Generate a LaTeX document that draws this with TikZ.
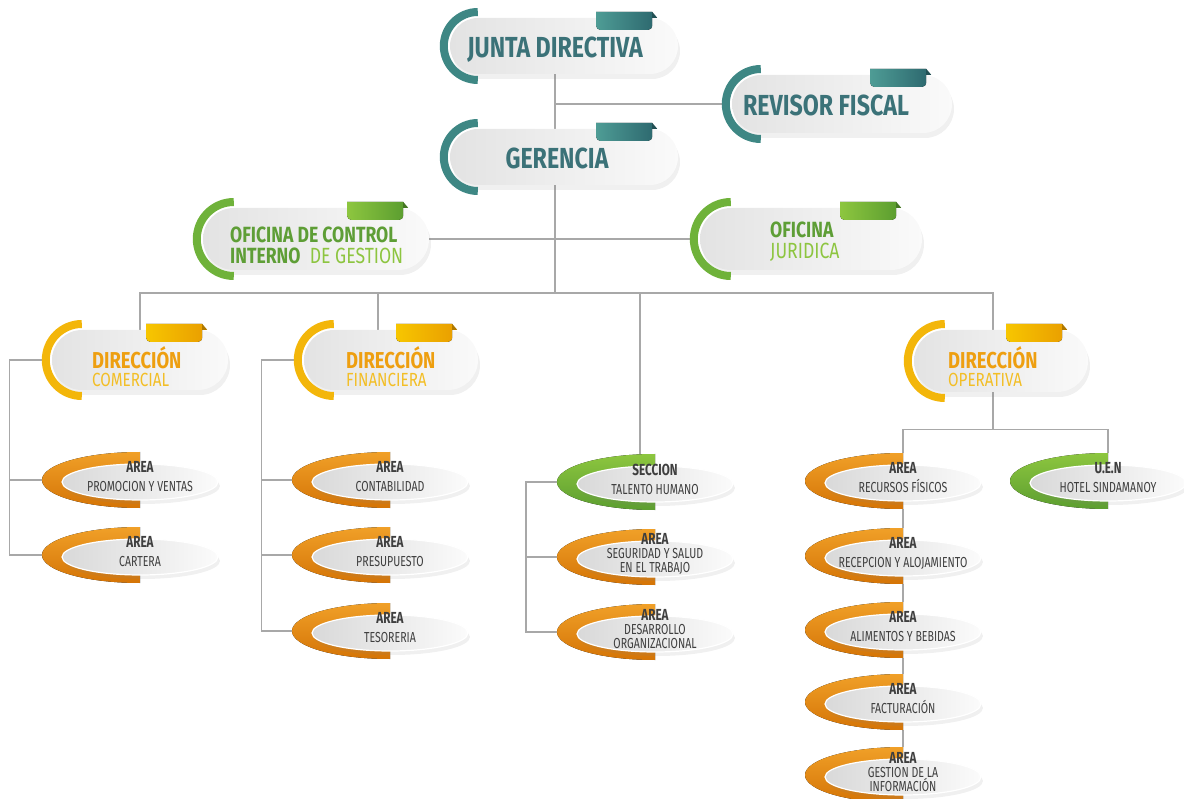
\documentclass[tikz,border=0pt]{standalone}
\usepackage{fontspec}
\setmainfont{Fira Sans}[FakeStretch=0.8]
\newfontfamily\narrowf{Fira Sans}[FakeStretch=0.73]
\usetikzlibrary{shapes.geometric,shadows}
\pgfdeclarelayer{background}
\pgfsetlayers{background,main}

\definecolor{tl}{HTML}{3E8784}
\definecolor{tlL}{HTML}{4E9C95}
\definecolor{tlD}{HTML}{2E6A70}
\definecolor{tltxt}{HTML}{3B7278}
\definecolor{gr}{HTML}{6FB23A}
\definecolor{grL}{HTML}{8DC63F}
\definecolor{grD}{HTML}{5C9E30}
\definecolor{grtxt}{HTML}{5E9E36}
\definecolor{grlt}{HTML}{8DC540}
\definecolor{yl}{HTML}{F3B60A}
\definecolor{ylL}{HTML}{F7C600}
\definecolor{ylD}{HTML}{EAA000}
\definecolor{yltxt}{HTML}{EE9F10}
\definecolor{yllt}{HTML}{F3BE25}
\definecolor{orgL}{HTML}{F0A028}
\definecolor{orgD}{HTML}{D47406}
\definecolor{ln}{HTML}{A8A8A8}
\definecolor{txtgray}{HTML}{3F3F3F}

\newcommand\hd[1]{{\fontsize{16}{14}\selectfont\bfseries #1}}

% pill: name, centre, width, height, colour
\newcommand\pillbox[5]{%
  \pgfmathsetmacro\ph{#4/2}%
  \node[pill, minimum width=#3pt, minimum height=#4pt, rounded corners=\ph pt] (#1) at (#2) {};
  \draw[#5, line width=8pt] ([xshift=\ph pt]#1.west) ++(0pt,\ph pt+6pt)
    arc[start angle=90, end angle=270, radius=\ph pt+6pt];
  \fill[left color=#5L, right color=#5D] ([xshift=-26pt, yshift=6pt]#1.north east) coordinate (#1-k)
    [rounded corners=4pt] -- ++(0pt,-18pt) -- ++(-56pt,0pt) [sharp corners] -- ++(0pt,18pt) -- cycle;
  \fill[#5D!75!black] (#1-k) -- ++(5pt,-6pt) -- ++(-5pt,0pt) -- cycle;
  \coordinate (#1-a) at ([xshift=-10pt]#1.west);
}
% area: name, centre, colour, text
\newcommand\areabox[4]{%
  \fill[top color=#3L, bottom color=#3D] (#2) ++(0pt,28pt) coordinate (#1-t)
    arc[start angle=90, end angle=270, x radius=98pt, y radius=28pt] coordinate (#1-b) -- cycle;
  \node[area] (#1) at (#2) {};
  \node[areatxt] (#1-x) at (#2) {#4};
  \path (#2) ++(-98pt,0pt) coordinate (#1-l);
}

\begin{document}
\begin{tikzpicture}[x=1pt, y=-1pt,
  pill/.style={rectangle, left color=gray!22, right color=gray!4,
    drop shadow={shadow xshift=2pt, shadow yshift=-5pt, opacity=.12}},
  area/.style={ellipse, minimum width=156pt, minimum height=36pt, inner sep=0pt, yshift=-2pt,
    left color=gray!30, right color=gray!3, draw=white, line width=1.2pt,
    drop shadow={shadow xshift=2pt, shadow yshift=-4pt, opacity=.12}},
  areatxt/.style={font=\narrowf\fontsize{14.5}{14}\selectfont, text=txtgray, align=center,
    inner sep=0pt, yshift=3pt},
  ttl/.style={font=\fontsize{29}{30}\selectfont\bfseries, text=tltxt, inner sep=0pt},
  dirtxt/.style={font=\fontsize{19}{18}\selectfont, align=left, anchor=west, inner sep=0pt},
  ofitxt/.style={font=\fontsize{22}{21}\selectfont, align=left, anchor=west, inner sep=0pt},
  link/.style={draw=ln, line width=1.3pt}]
\useasboundingbox (0,0) rectangle (1184,799);

\pillbox{jd}{564,46}{228}{56}{tl}
\pillbox{rf}{842,104}{220}{58}{tl}
\pillbox{ger}{564,157}{228}{56}{tl}
\pillbox{oci}{316,239}{226}{62}{gr}
\pillbox{ofj}{811,239}{222}{62}{gr}
\pillbox{dcom}{140,360}{176}{60}{yl}
\pillbox{dfin}{391,360}{174}{60}{yl}
\pillbox{dope}{1001,361}{174}{62}{yl}

\node[ttl] (jd-x) at (555,50) {JUNTA DIRECTIVA};
\node[ttl] (rf-x) at (826,105) {REVISOR FISCAL};
\node[ttl] (ger-x) at (557,158) {GERENCIA};
\node[ofitxt] (oci-x) at (230,245) {{\bfseries\color{grtxt}OFICINA DE CONTROL}\\
  {\bfseries\color{grtxt}INTERNO}\ \ {\color{grlt}DE GESTION}};
\node[ofitxt] (ofj-x) at (770,242) {{\bfseries\color{grtxt}OFICINA}\\ {\color{grlt}JURIDICA}};
\node[dirtxt] (dcom-x) at (92,367) {{\fontsize{23}{18}\selectfont\bfseries\color{yltxt}DIRECCIÓN}\\ {\color{yllt}COMERCIAL}};
\node[dirtxt] (dfin-x) at (346,367) {{\fontsize{23}{18}\selectfont\bfseries\color{yltxt}DIRECCIÓN}\\ {\color{yllt}FINANCIERA}};
\node[dirtxt] (dope-x) at (948,367) {{\fontsize{23}{18}\selectfont\bfseries\color{yltxt}DIRECCIÓN}\\ {\color{yllt}OPERATIVA}};

\areabox{prom}{140,480}{org}{\hd{AREA}\\[5pt] PROMOCION Y VENTAS}
\areabox{cart}{140,555}{org}{\hd{AREA}\\[5pt] CARTERA}
\areabox{cont}{390,480}{org}{\hd{AREA}\\[5pt] CONTABILIDAD}
\areabox{pres}{390,555}{org}{\hd{AREA}\\[5pt] PRESUPUESTO}
\areabox{teso}{390,631}{org}{\hd{AREA}\\[5pt] TESORERIA}
\areabox{tal}{655,482}{gr}{\hd{SECCION}\\[5pt] TALENTO HUMANO}
\areabox{segu}{655,557}{org}{\hd{AREA}\\ SEGURIDAD Y SALUD\\ EN EL TRABAJO}
\areabox{desa}{655,632}{org}{\hd{AREA}\\ DESARROLLO\\ ORGANIZACIONAL}
\areabox{rfis}{903,481}{org}{\hd{AREA}\\[5pt] RECURSOS FÍSICOS}
\areabox{recp}{903,556}{org}{\hd{AREA}\\[5pt] RECEPCION Y ALOJAMIENTO}
\areabox{alim}{903,630}{org}{\hd{AREA}\\[5pt] ALIMENTOS Y BEBIDAS}
\areabox{fact}{903,702}{org}{\hd{AREA}\\[5pt] FACTURACIÓN}
\areabox{gest}{903,775}{org}{\hd{AREA}\\ GESTION DE LA\\ INFORMACIÓN}
\areabox{uen}{1108,481}{gr}{\hd{U.E.N}\\[5pt] HOTEL SINDAMANOY}

\coordinate (bus) at (555,293);
\begin{pgfonlayer}{background}
\draw[link] (jd-x |- jd.south) -- (jd-x |- ger.north);
\draw[link] (jd-x |- rf) -- (rf-a);
\draw[link] (jd-x |- ger.south) -- (bus);
\draw[link] (oci.east) -- (ofj-a);
\draw[link] (dcom.north) |- (bus) -| ([xshift=-8pt]dope.north);
\draw[link] ([xshift=-13pt]dfin.north) |- (bus);
\draw[link] ([xshift=-15pt]tal-t) |- (bus);
% comercial
\draw[link] (dcom-a) -- ++(-32,0) coordinate (cm) |- (cart-l);
\draw[link] (cm |- prom-l) -- (prom-l);
% financiera
\draw[link] (dfin-a) -- ++(-32,0) coordinate (fn) |- (teso-l);
\draw[link] (fn |- cont-l) -- (cont-l);
\draw[link] (fn |- pres-l) -- (pres-l);
% talento
\draw[link] (tal-l) -- ++(-31,0) coordinate (th) |- (desa-l);
\draw[link] (th |- segu-l) -- (segu-l);
% operativa
\draw[link] ([xshift=-8pt]dope.south) -- ++(0,37) coordinate (opb);
\draw[link] (rfis-t) |- (opb) -| (uen-t);
\draw[link] (rfis-b) -- (recp-t);
\draw[link] (recp-b) -- (alim-t);
\draw[link] (alim-b) -- (fact-t);
\draw[link] (fact-b) -- (gest-t);
\end{pgfonlayer}
\end{tikzpicture}
\end{document}
